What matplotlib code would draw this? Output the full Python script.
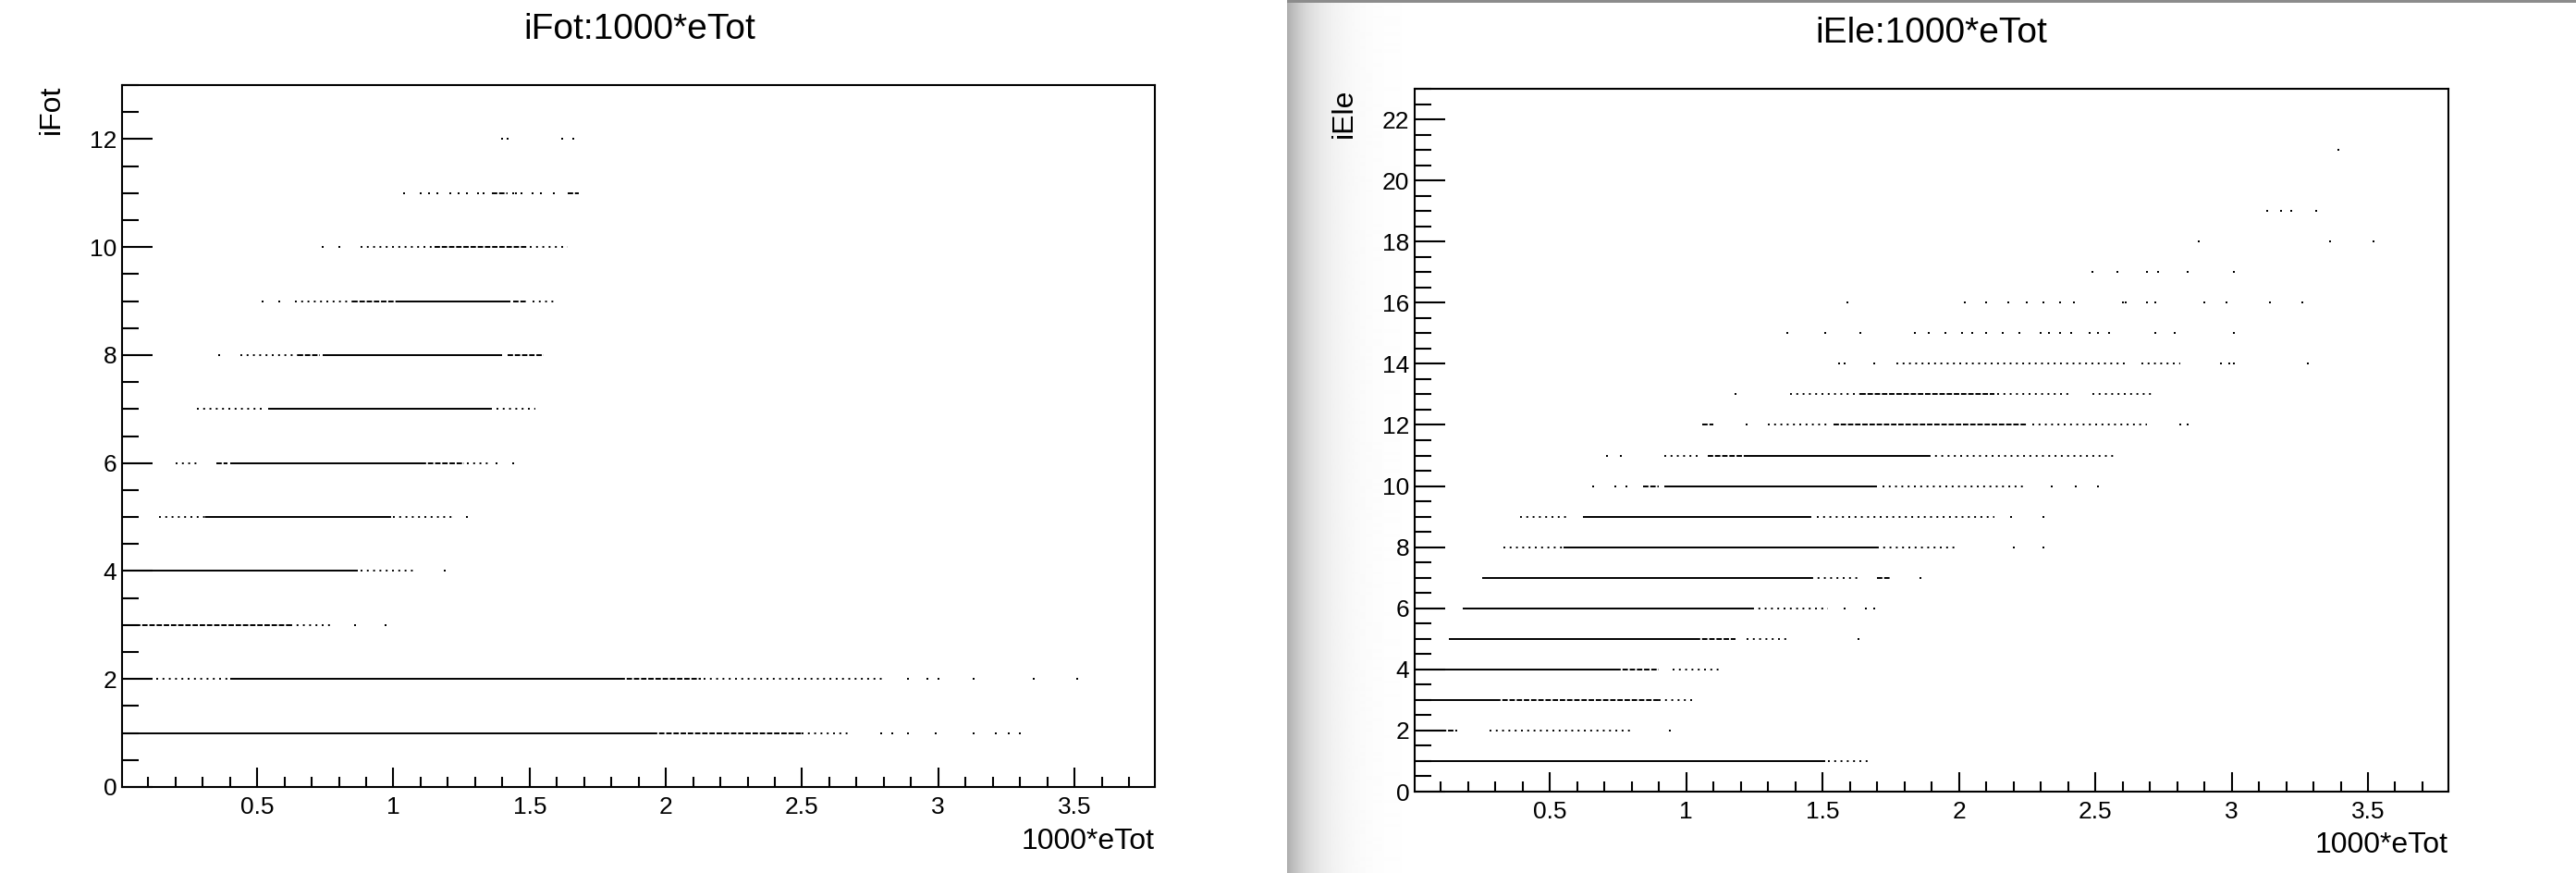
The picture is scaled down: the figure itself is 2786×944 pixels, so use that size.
import matplotlib
matplotlib.use("Agg")
import matplotlib.pyplot as plt
from matplotlib.ticker import MultipleLocator, FuncFormatter
from matplotlib.patches import Rectangle
import numpy as np

plt.rcParams['font.family'] = ['Liberation Sans', 'DejaVu Sans']

# ---- iFot vs 1000*eTot : (level, x start, x end) runs and single dots
fot_solid = [(1, 0.01, 1.95), (2, 0.40, 1.83), (4, 0.10, 0.87), (5, 0.31, 0.99),
             (6, 0.40, 1.10), (7, 0.54, 1.36), (8, 0.74, 1.40), (9, 1.01, 1.43)]
fot_dashed = [(1, 1.95, 2.50), (2, 0.04, 0.12), (2, 1.83, 2.13), (3, 0.05, 0.62),
              (6, 0.35, 0.39), (6, 1.10, 1.26), (8, 0.65, 0.73), (8, 1.42, 1.55),
              (9, 0.85, 1.01), (9, 1.44, 1.49), (10, 1.15, 1.49), (11, 1.36, 1.42),
              (11, 1.64, 1.68)]
fot_dotted = [(0, 0.01, 2.20), (1, 2.50, 2.68), (2, 0.13, 0.40), (2, 2.14, 2.80),
              (3, 0.62, 0.78), (4, 0.88, 1.08), (5, 0.14, 0.31), (5, 1.00, 1.22),
              (6, 0.20, 0.29), (6, 1.27, 1.36), (7, 0.28, 0.53), (7, 1.38, 1.52),
              (8, 0.44, 0.65), (9, 0.64, 0.85), (9, 1.51, 1.60), (10, 0.88, 1.15),
              (10, 1.50, 1.64)]
fot_dots_y = [1, 1, 1, 1, 1, 1, 1, 1, 2, 2, 2, 2, 2, 2, 3, 3, 4, 5, 6, 6, 8, 9, 9, 10, 10,
              11, 11, 11, 11, 11, 11, 11, 11, 11, 11, 11, 11, 11, 11, 11, 12, 12, 12, 12]
fot_dots_x = [2.79, 2.83, 2.89, 2.99, 3.13, 3.21, 3.26, 3.30, 2.89, 2.96, 3.00, 3.13, 3.35, 3.51,
              0.86, 0.97, 1.19, 1.27, 1.38, 1.44, 0.36, 0.52, 0.58, 0.74, 0.80,
              1.04, 1.10, 1.13, 1.16, 1.21, 1.24, 1.27, 1.31, 1.33, 1.44, 1.45, 1.47, 1.51, 1.54,
              1.59, 1.40, 1.42, 1.62, 1.66]

# ---- iEle vs 1000*eTot
ele_solid = [(1, 0.01, 1.51), (3, 0.05, 0.30), (4, 0.08, 0.74), (5, 0.13, 1.03),
             (6, 0.18, 1.24), (7, 0.25, 1.46), (8, 0.55, 1.70), (9, 0.62, 1.46),
             (10, 0.92, 1.70), (11, 1.22, 1.89)]
ele_dashed = [(2, 0.02, 0.16), (3, 0.30, 0.90), (4, 0.74, 0.90), (5, 1.03, 1.18),
              (7, 1.70, 1.75), (10, 0.84, 0.90), (11, 1.08, 1.22), (12, 1.06, 1.10),
              (12, 1.54, 2.25), (13, 1.64, 2.13)]
ele_dotted = [(0, 0.02, 1.61), (1, 1.52, 1.67), (2, 0.28, 0.80), (3, 0.90, 1.02),
              (4, 0.95, 1.13), (5, 1.22, 1.37), (6, 1.24, 1.52), (7, 1.46, 1.64),
              (8, 0.33, 0.55), (8, 1.70, 1.99), (9, 0.39, 0.57), (9, 1.48, 2.13),
              (10, 1.72, 2.24), (11, 0.92, 1.04), (11, 1.89, 2.58), (12, 1.30, 1.52),
              (12, 2.27, 2.69), (13, 1.38, 1.64), (13, 2.14, 2.40), (13, 2.49, 2.72),
              (14, 1.77, 2.61), (14, 2.67, 2.81)]
ele_dots_y = [2, 5, 6, 6, 6, 7, 8, 8, 9, 9, 10, 10, 10, 10, 10, 10, 11, 11, 12, 12, 12, 13,
              14, 14, 14, 14, 14, 14, 14,
              15, 15, 15, 15, 15, 15, 15, 15, 15, 15, 15, 15, 15, 15, 15, 15, 15, 15, 15, 15, 15,
              16, 16, 16, 16, 16, 16, 16, 16, 16, 16, 16, 16, 16, 16, 16, 16,
              17, 17, 17, 17, 17, 17, 18, 18, 18, 19, 19, 19, 19, 21]
ele_dots_x = [0.94, 1.63, 1.58, 1.66, 1.69, 1.86, 2.20, 2.31, 2.19, 2.31, 0.66, 0.74, 0.78,
              2.34, 2.43, 2.51, 0.71, 0.76, 1.22, 2.81, 2.84, 1.18,
              1.56, 1.58, 1.69, 2.96, 2.99, 3.01, 3.28,
              1.37, 1.51, 1.64, 1.84, 1.89, 1.95, 2.01, 2.05, 2.10, 2.16, 2.22, 2.30, 2.33,
              2.37, 2.41, 2.48, 2.51, 2.55, 2.72, 2.79, 3.01,
              1.59, 2.02, 2.10, 2.18, 2.25, 2.31, 2.37, 2.42, 2.60, 2.61, 2.69, 2.72, 2.90,
              2.98, 3.14, 3.26,
              2.49, 2.58, 2.69, 2.73, 2.84, 3.01, 2.88, 3.36, 3.52, 3.13, 3.18, 3.22, 3.31, 3.39]

fig = plt.figure(figsize=(27.86, 9.44), dpi=100)

# shadow of the second canvas window
grad = fig.add_axes([1392 / 2786, 0, 130 / 2786, 1])
d = np.linspace(0, 130, 260)
grad.imshow((1 - 0.32 * np.exp(-d / 28))[None, :], cmap='gray', vmin=0, vmax=1,
            aspect='auto', extent=(0, 1, 0, 1))
grad.axis('off')
fig.add_artist(Rectangle((1392 / 2786, 1 - 3 / 944), 1 - 1392 / 2786, 3 / 944,
                         transform=fig.transFigure, color='#8c8c8c', lw=0))


def panel(rect, solid, dashed, dotted, dy, dx, ytop, title, ylab, tpos, xlab_y, ylab_x):
    ax = fig.add_axes(rect)
    for runs, ls in [(solid, 'solid'), (dashed, (0, (3, 1))), (dotted, (0, (1, 2.5)))]:
        ax.hlines([r[0] for r in runs], [r[1] for r in runs], [r[2] for r in runs],
                  colors='black', linewidth=1.4, linestyles=ls)
    ax.plot(dx, dy, 's', color='black', markersize=1.8, markeredgewidth=0)
    ax.set_xlim(0.004, 3.795)
    ax.set_ylim(0, ytop)
    ax.xaxis.set_major_locator(MultipleLocator(0.5))
    ax.xaxis.set_minor_locator(MultipleLocator(0.1))
    ax.yaxis.set_major_locator(MultipleLocator(2))
    ax.yaxis.set_minor_locator(MultipleLocator(0.5))
    fmt = FuncFormatter(lambda v, p: '%g' % v)
    ax.xaxis.set_major_formatter(fmt)
    ax.yaxis.set_major_formatter(fmt)
    ax.tick_params(axis='x', which='major', direction='in', length=15, width=1.5,
                   labelsize=19, pad=7)
    ax.tick_params(axis='x', which='minor', direction='in', length=8, width=1.5)
    ax.tick_params(axis='y', which='major', direction='in', length=24, width=1.5,
                   labelsize=19, pad=4)
    ax.tick_params(axis='y', which='minor', direction='in', length=13, width=1.5)
    for s in ax.spines.values():
        s.set_linewidth(1.5)
    fig.text(tpos[0], tpos[1], title, fontsize=28, ha='center', va='baseline')
    fig.text(rect[0] + rect[2], xlab_y, '1000*eTot', fontsize=23, ha='right', va='baseline')
    fig.text(ylab_x, rect[1] + rect[3], ylab, fontsize=23, rotation=90, ha='center', va='top')
    return ax


panel([132 / 2786, 1 - 851 / 944, 1117 / 2786, 759 / 944], fot_solid, fot_dashed, fot_dotted,
      fot_dots_y, fot_dots_x, 13, 'iFot:1000*eTot', 'iFot', (692 / 2786, 1 - 42 / 944),
      1 - 918 / 944, 56 / 2786)
panel([1530 / 2786, 1 - 856 / 944, 1118 / 2786, 760 / 944], ele_solid, ele_dashed, ele_dotted,
      ele_dots_y, ele_dots_x, 23, 'iEle:1000*eTot', 'iEle', (2089 / 2786, 1 - 46 / 944),
      1 - 922 / 944, 1454 / 2786)

fig.savefig('out.png', dpi=100)
